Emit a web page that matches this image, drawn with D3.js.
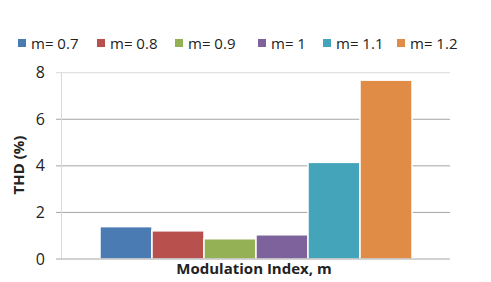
<!DOCTYPE html>
<html lang="en">
  <head>
    <meta charset="utf-8">
    <title>THD vs modulation index</title>
    <style>
      body { margin: 0; background: #fff; }
      text { font-family: "Open Sans", "DejaVu Sans", sans-serif; fill: #222; }
    </style>
  </head>
  <body>
    <svg class="chart"></svg>
    <script src="https://d3js.org/d3.v7.min.js"></script>
    <script>
    const series = ["m= 0.7", "m= 0.8", "m= 0.9", "m= 1", "m= 1.1", "m= 1.2"];
    const values = [1.39, 1.21, 0.87, 1.04, 4.15, 7.68];
    const colors = ["#4a7cb3", "#b8504d", "#95b155", "#7e629b", "#44a4ba", "#e08c47"];
    const yTicks = [0, 2, 4, 6, 8];

    const width = 491, height = 282;
    const svg = d3.select(".chart").attr("width", width).attr("height", height);

    const xScale = d3.scaleBand().domain(series).range([100, 412]).padding(0);
    const yScale = d3.scaleLinear().domain([0, 8]).range([259, 72.7]);

    // gridlines
    svg.append("g").selectAll("line").data(yTicks.filter(d => d > 0)).enter()
      .append("line")
      .attr("x1", 56).attr("x2", 450)
      .attr("y1", d => yScale(d)).attr("y2", d => yScale(d))
      .style("stroke", d => d == 8 ? "#d9d9d9" : "#a6a6a6")
      .style("stroke-width", 1);

    // vertical axis line
    svg.append("line")
      .attr("x1", 61.5).attr("x2", 61.5)
      .attr("y1", yScale(8)).attr("y2", yScale(0))
      .style("stroke", "#d9d9d9");

    // bars
    svg.append("g").selectAll("rect").data(values).enter()
      .append("rect")
      .attr("x", (d, i) => xScale(series[i]))
      .attr("y", d => yScale(d))
      .attr("width", xScale.bandwidth())
      .attr("height", d => yScale(0) - yScale(d))
      .style("fill", (d, i) => colors[i])
      .style("stroke", "#fff")
      .style("stroke-width", 1.5);

    // baseline
    svg.append("line")
      .attr("x1", 56).attr("x2", 450)
      .attr("y1", yScale(0)).attr("y2", yScale(0))
      .style("stroke", "#a6a6a6");

    const yAxis = d3.axisLeft(yScale).tickValues(yTicks).tickSize(0).tickPadding(0);
    const yg = svg.append("g")
      .attr("transform", "translate(45,0)")
      .call(yAxis);
    yg.select(".domain").remove();
    yg.selectAll("text")
      .style("font-size", "16px")
      .style("fill", "#222")
      .style("font-family", "'Open Sans', sans-serif");

    svg.append("text")
      .attr("transform", "translate(24," + 165 + ") rotate(-90)")
      .attr("text-anchor", "middle")
      .style("font-size", "15px")
      .style("font-weight", "bold")
      .text("THD (%)");

    svg.append("text")
      .attr("x", 254).attr("y", 274)
      .attr("text-anchor", "middle")
      .style("font-size", "15px")
      .style("font-weight", "bold")
      .text("Modulation Index, m");

    // legend
    const legendX = [18, 97, 175, 258, 323, 397];
    const legend = svg.append("g").attr("id", "legend");
    legend.selectAll("rect").data(series).enter()
      .append("rect")
      .attr("x", (d, i) => legendX[i]).attr("y", 39)
      .attr("width", 8).attr("height", 8)
      .style("fill", (d, i) => colors[i]);
    legend.selectAll("text").data(series).enter()
      .append("text")
      .attr("x", (d, i) => legendX[i] + 13).attr("y", 48.5)
      .style("font-size", "15px")
      .text(d => d);
    </script>
  </body>
</html>
